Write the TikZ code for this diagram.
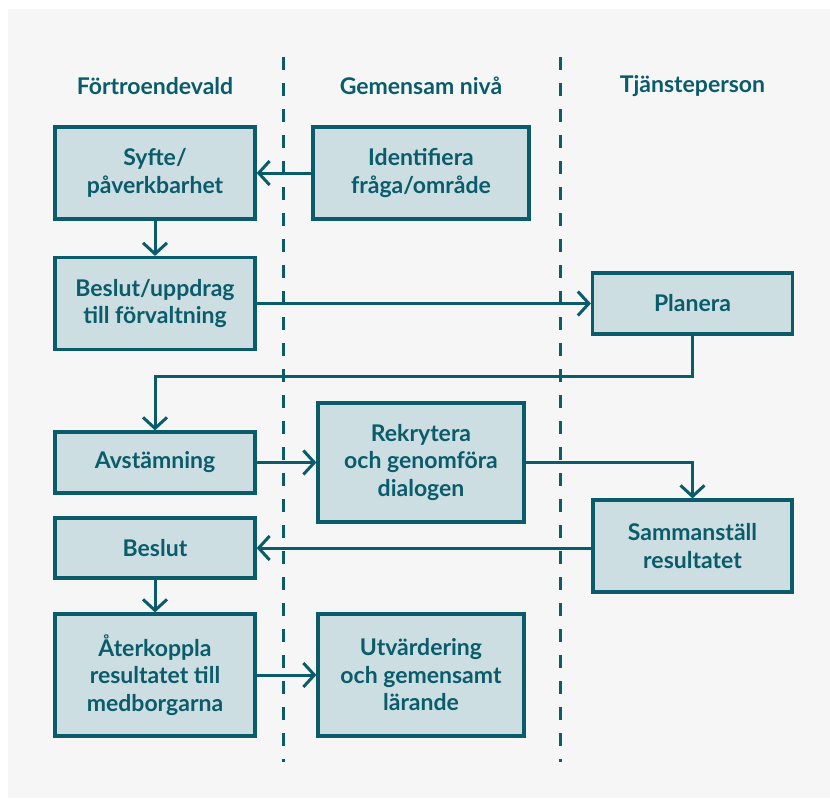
\documentclass[tikz,border=0pt]{standalone}
\usepackage{fontspec}
\setmainfont{Lato}
\usetikzlibrary{arrows.meta}
\definecolor{ink}{HTML}{0A5C6A}
\definecolor{boxfill}{HTML}{CCDEE2}
\definecolor{panel}{HTML}{F6F6F6}
\begin{document}
\begin{tikzpicture}[x=1pt,y=-1pt,
  every node/.style={font=\fontsize{23}{27.5}\selectfont\bfseries, text=ink, align=center},
  stepbox/.style={draw=ink, fill=boxfill, line width=3.2pt, inner sep=0pt},
  head/.style={},
  flow/.style={draw=ink, line width=3pt, -{Straight Barb[length=11pt,width=24pt,line width=3pt]}},
  lane/.style={draw=ink, line width=3pt, dash pattern=on 13pt off 13pt}]
  % canvas and panel
  \useasboundingbox (0,0) rectangle (830,798);
  \fill[white] (0,0) rectangle (830,798);
  \fill[panel] (8,9) rectangle (830,798);

  % lane separators
  \coordinate (l1t) at (283,57);
  \coordinate (l1b) at (283,762);
  \coordinate (l2t) at (560,57);
  \coordinate (l2b) at (560,762);
  \draw[lane] (l1t) -- (l1b);
  \draw[lane] (l2t) -- (l2b);

  % lane headings
  \node[head] (hA) at (155,86) {Förtroendevald};
  \node[head] (hB) at (421,86) {Gemensam nivå};
  \node[head] (hC) at (692.5,86) {Tjänsteperson};

  % process steps
  \node[stepbox, minimum width=200pt, minimum height=92pt] (syfte) at (155,173) {Syfte/\\påverkbarhet};
  \node[stepbox, minimum width=216pt, minimum height=92pt] (ident) at (421,173) {Identifiera\\fråga/område};
  \node[stepbox, minimum width=200pt, minimum height=92pt] (uppdrag) at (155,303.5) {Beslut/uppdrag\\till förvaltning};
  \node[stepbox, minimum width=200pt, minimum height=61pt] (planera) at (692.5,303.5) {Planera};
  \node[stepbox, minimum width=200pt, minimum height=61pt] (avst) at (155,462.5) {Avstämning};
  \node[stepbox, minimum width=206pt, minimum height=119pt] (rekr) at (421,462.5) {Rekrytera\\och genomföra\\dialogen};
  \node[stepbox, minimum width=199pt, minimum height=92pt] (samm) at (692.5,546) {Sammanställ\\resultatet};
  \node[stepbox, minimum width=200pt, minimum height=60pt] (beslut) at (155,548) {Beslut};
  \node[stepbox, minimum width=200pt, minimum height=122pt] (ater) at (155,675) {Återkoppla\\resultatet till\\medborgarna};
  \node[stepbox, minimum width=206pt, minimum height=122pt] (utv) at (421,675) {Utvärdering\\och gemensamt\\lärande};

  % connectors
  \draw[flow] (ident.west) -- (syfte.east);
  \draw[flow] (syfte.south) -- (uppdrag.north);
  \draw[flow] (uppdrag.east) -- (planera.west);
  \draw[flow] (planera.south) |- (155,376) -- (avst.north);
  \draw[flow] (avst.east) -- (rekr.west);
  \draw[flow] (rekr.east) -| (samm.north);
  \draw[flow] (samm.west |- beslut.east) -- (beslut.east);
  \draw[flow] (beslut.south) -- (ater.north);
  \draw[flow] (ater.east) -- (utv.west);
\end{tikzpicture}
\end{document}
